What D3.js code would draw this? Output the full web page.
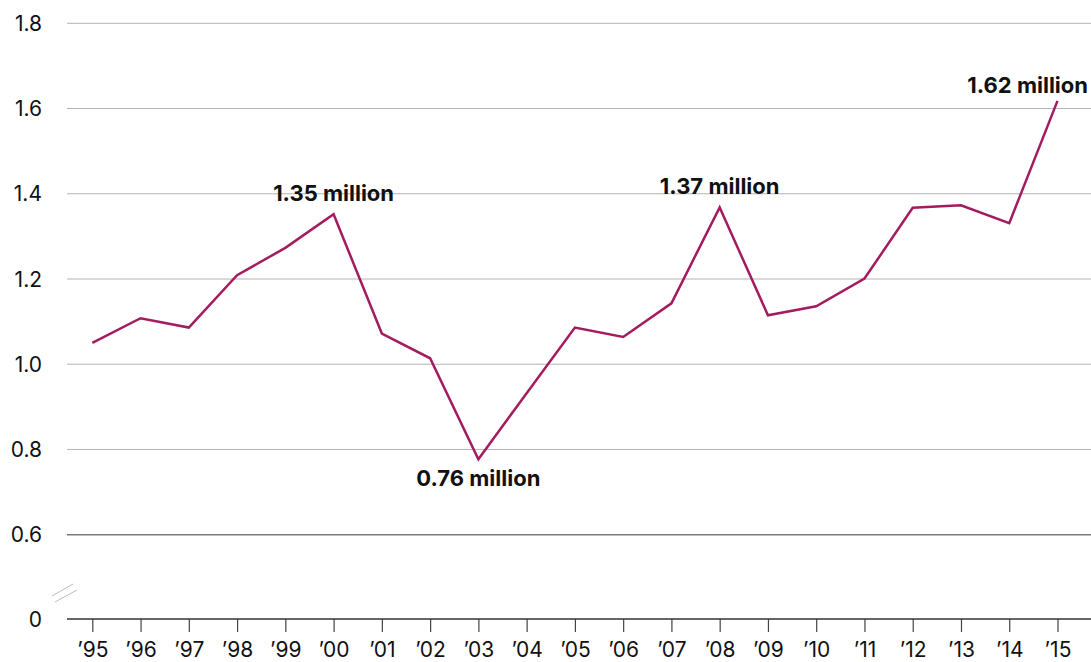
<!DOCTYPE html>
<html>
<head>
<meta charset="utf-8">
<script src="https://cdn.jsdelivr.net/npm/d3@7"></script>
<style>
  html, body { margin: 0; padding: 0; background: #fff; }
  svg { display: block; font-family: Inter, "Open Sans", sans-serif; }
</style>
</head>
<body>
<svg id="chart" width="1091" height="662"></svg>
<script>
const years = ["’95","’96","’97","’98","’99","’00","’01","’02","’03","’04","’05","’06","’07","’08","’09","’10","’11","’12","’13","’14","’15"];
const values = [1.050,1.108,1.086,1.209,1.273,1.352,1.072,1.014,0.777,0.932,1.086,1.064,1.143,1.368,1.115,1.136,1.201,1.367,1.373,1.331,1.618];
const yTicks = [0, 0.6, 0.8, 1.0, 1.2, 1.4, 1.6, 1.8];
const yTickLabels = ["0","0.6","0.8","1.0","1.2","1.4","1.6","1.8"];
const annotations = [
  { index: 5, text: "1.35 million", pos: "above" },
  { index: 8, text: "0.76 million", pos: "below" },
  { index: 13, text: "1.37 million", pos: "above" },
  { index: 20, text: "1.62 million", pos: "right" }
];

const svg = d3.select("#chart");
const gridLeft = 67, gridRight = 1091;

const x = d3.scalePoint().domain(years).range([92.3, 1057.5]);
const y = d3.scaleLinear().domain([0, 0.6, 1.8]).range([619, 534.7, 23.3]);

// gridlines
svg.append("g").selectAll("line")
  .data(yTicks.filter(d => d > 0))
  .join("line")
  .attr("x1", gridLeft).attr("x2", gridRight)
  .attr("y1", d => y(d)).attr("y2", d => y(d))
  .attr("stroke", d => d === 0.6 ? "#7a7a7a" : "#b3b3b3")
  .attr("stroke-width", d => d === 0.6 ? 1.5 : 1);

// y labels
svg.append("g").selectAll("text")
  .data(yTicks)
  .join("text")
  .attr("x", 42).attr("y", d => y(d) + 7.5)
  .attr("text-anchor", "end")
  .attr("font-size", 21)
  .attr("fill", "#111")
  .text((d, i) => yTickLabels[i]);

// x axis
const xAxis = d3.axisBottom(x).tickSize(13).tickPadding(10).tickSizeOuter(0);
const gx = svg.append("g").attr("transform", "translate(0,619)").call(xAxis);
gx.select(".domain").remove();
gx.selectAll(".tick line").attr("stroke", "#444").attr("stroke-width", 1.2);
gx.selectAll(".tick text").attr("font-size", 21).attr("fill", "#111").attr("font-family", "Inter, sans-serif");
svg.append("line")
  .attr("x1", gridLeft).attr("x2", gridRight)
  .attr("y1", 619).attr("y2", 619)
  .attr("stroke", "#333").attr("stroke-width", 1.5);

// axis break marks
const brk = svg.append("g").attr("stroke", "#bbb").attr("stroke-width", 1);
brk.append("line").attr("x1", 52).attr("y1", 596).attr("x2", 73).attr("y2", 584);
brk.append("line").attr("x1", 55).attr("y1", 602).attr("x2", 77).attr("y2", 590);

// line
const line = d3.line().x((d, i) => x(years[i])).y(d => y(d));
svg.append("path")
  .datum(values)
  .attr("d", line)
  .attr("fill", "none")
  .attr("stroke", "#a31c5f")
  .attr("stroke-width", 2.5)
  .attr("stroke-linejoin", "miter");

// annotations
svg.append("g").selectAll("text")
  .data(annotations)
  .join("text")
  .attr("font-size", 22)
  .attr("font-weight", "bold")
  .attr("fill", "#111")
  .attr("text-anchor", d => d.pos === "right" ? "end" : "middle")
  .attr("x", d => d.pos === "right" ? 1088 : x(years[d.index]))
  .attr("y", d => {
    const v = y(values[d.index]);
    if (d.pos === "above") return v - 13;
    if (d.pos === "below") return v + 27;
    return v - 8;
  })
  .text(d => d.text);
</script>
</body>
</html>
